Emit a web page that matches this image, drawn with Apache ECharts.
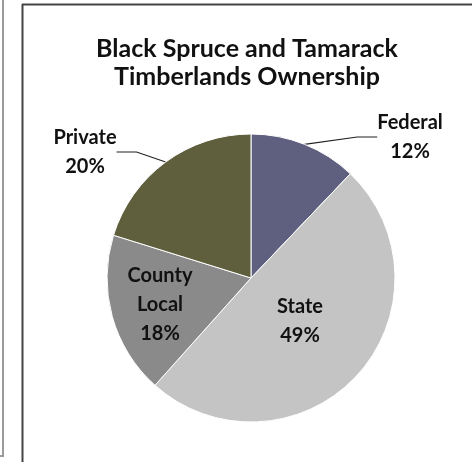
<!DOCTYPE html>
<html>
<head>
<meta charset="utf-8">
<script src="https://cdn.jsdelivr.net/npm/echarts@6/dist/echarts.min.js"></script>
<style>
html,body{margin:0;padding:0;background:#fff;}
#chart{width:472px;height:462px;}
</style>
</head>
<body>
<div id="chart"></div>
<script>
var categories = ['Federal', 'State', 'County\nLocal', 'Private'];
var values = [12, 49, 18, 20];
var sliceColors = ['#5f5f80', '#c4c4c4', '#8a8a8a', '#5f5f3e'];
var labelInside = [false, true, true, false];

var chart = echarts.init(document.getElementById('chart'));
var font = 'Lato, "Open Sans", sans-serif';

var labelSpots = [
  {x: 410, y: 137},
  {x: 300, y: 321},
  {x: 160, y: 305},
  {x: 85, y: 152}
];

var data = categories.map(function (c, i) {
  return {
    name: c,
    value: values[i],
    itemStyle: {color: sliceColors[i]},
    label: {position: labelInside[i] ? 'inside' : 'outside'},
    labelLine: {show: !labelInside[i]}
  };
});

chart.setOption({
  backgroundColor: '#ffffff',
  animation: false,
  title: {
    text: 'Black Spruce and Tamarack\nTimberlands Ownership',
    left: 242,
    top: 30,
    textAlign: 'center',
    textStyle: {
      fontFamily: font,
      fontWeight: 'bold',
      fontSize: 25,
      lineHeight: 28,
      color: '#111111'
    }
  },
  graphic: [
    {type: 'line', shape: {x1: 3, y1: 0, x2: 3, y2: 456}, style: {stroke: '#9a9a9a', lineWidth: 2}},
    {type: 'line', shape: {x1: 0, y1: 456, x2: 4, y2: 456}, style: {stroke: '#9a9a9a', lineWidth: 2}},
    {type: 'line', shape: {x1: 22, y1: 4.5, x2: 472, y2: 4.5}, style: {stroke: '#444', lineWidth: 2}},
    {type: 'line', shape: {x1: 22.5, y1: 4, x2: 22.5, y2: 462}, style: {stroke: '#444', lineWidth: 2}}
  ],
  series: [{
    type: 'pie',
    center: [251, 278],
    radius: [0, 144],
    startAngle: 90,
    clockwise: true,
    data: data,
    itemStyle: {borderColor: '#ffffff', borderWidth: 1},
    label: {
      formatter: function (p) { return p.name + '\n' + p.value + '%'; },
      fontFamily: font,
      fontWeight: 'bold',
      fontSize: 20,
      lineHeight: 29,
      color: '#111111',
      align: 'center'
    },
    labelLine: {lineStyle: {color: '#222', width: 1.2}, length: 20, length2: 20},
    labelLayout: function (p) {
      var s = labelSpots[p.dataIndex];
      return {x: s.x, y: s.y, align: 'center', verticalAlign: 'middle'};
    }
  }]
});
</script>
</body>
</html>
